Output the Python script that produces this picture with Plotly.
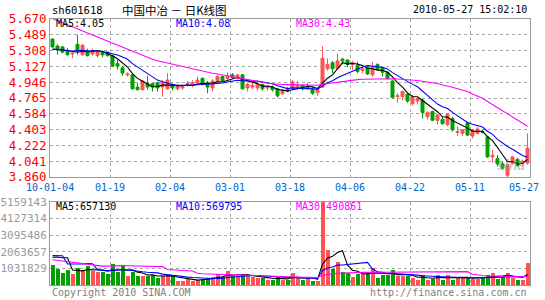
import plotly.graph_objects as go

# ---------------- data ----------------
tick_labels = ["10-01-04", "01-19", "02-04", "03-01", "03-18", "04-06", "04-22", "05-11", "05-27"]
price_ticks = [3.860, 4.041, 4.222, 4.403, 4.584, 4.765, 4.946, 5.127, 5.308, 5.489, 5.670]
vol_ticks = [1031829, 2063657, 3095486, 4127314, 5159143]

open_ = [5.44, 5.36, 5.35, 5.31, 5.27, 5.38, 5.26, 5.31, 5.27, 5.25,
         5.29, 5.29, 5.25, 5.16, 5.11, 5.03, 5.03, 4.89, 4.86, 4.93,
         4.93, 4.94, 4.89, 4.87, 4.92, 4.87, 4.88, 4.91, 4.91, 4.94,
         4.99, 4.94, 4.88, 4.96, 5.01, 4.99, 5.03, 4.99, 5.03, 4.88,
         4.89, 4.88, 4.92, 4.88, 4.89, 4.87, 4.815, 4.86, 4.88, 4.88,
         4.91, 4.88, 4.86, 4.83, 4.89, 5.10, 5.17, 5.10, 5.21, 5.20,
         5.15, 5.14, 5.08, 5.12, 5.03, 5.15, 5.11, 5.06, 4.96, 4.78,
         4.78, 4.81, 4.70, 4.73, 4.74, 4.55, 4.61, 4.51, 4.52, 4.46,
         4.53, 4.37, 4.36, 4.48, 4.33, 4.36, 4.38, 4.32, 4.09, 4.07,
         4.01, 3.88, 4.02, 4.06, 4.02, 4.02]
high = [5.45, 5.38, 5.36, 5.34, 5.29, 5.49, 5.38, 5.33, 5.33, 5.31,
        5.31, 5.30, 5.26, 5.20, 5.13, 5.06, 5.04, 4.94, 4.97, 5.02,
        4.93, 4.95, 4.97, 5.05, 4.93, 4.92, 4.92, 4.96, 4.97, 5.01,
        5.00, 4.96, 4.98, 5.03, 5.02, 5.06, 5.05, 5.04, 5.04, 4.94,
        4.94, 4.96, 4.93, 4.91, 4.91, 4.88, 4.87, 4.89, 4.97, 4.96,
        4.92, 4.94, 4.89, 4.87, 5.36, 5.22, 5.19, 5.27, 5.22, 5.21,
        5.19, 5.18, 5.12, 5.13, 5.18, 5.16, 5.12, 5.07, 4.97, 4.82,
        4.85, 4.82, 4.80, 4.77, 4.76, 4.61, 4.62, 4.58, 4.55, 4.59,
        4.55, 4.44, 4.41, 4.49, 4.41, 4.43, 4.40, 4.33, 4.17, 4.11,
        4.04, 4.01, 4.10, 4.08, 4.06, 4.36]
low = [5.34, 5.26, 5.28, 5.25, 5.22, 5.26, 5.25, 5.24, 5.25, 5.23,
       5.23, 5.24, 5.12, 5.09, 5.02, 5.01, 4.86, 4.85, 4.85, 4.86,
       4.84, 4.84, 4.78, 4.86, 4.85, 4.85, 4.86, 4.90, 4.89, 4.93,
       4.91, 4.82, 4.84, 4.95, 4.95, 4.96, 4.99, 4.98, 4.86, 4.84,
       4.87, 4.85, 4.85, 4.85, 4.84, 4.77, 4.80, 4.83, 4.87, 4.86,
       4.85, 4.86, 4.80, 4.79, 4.88, 5.08, 5.05, 5.09, 5.15, 5.12,
       5.09, 5.05, 5.05, 5.03, 5.01, 5.08, 5.01, 4.98, 4.76, 4.71,
       4.74, 4.71, 4.68, 4.69, 4.53, 4.52, 4.50, 4.46, 4.46, 4.44,
       4.38, 4.33, 4.33, 4.33, 4.30, 4.35, 4.36, 4.08, 4.02, 3.98,
       3.94, 3.86, 4.00, 3.98, 3.99, 4.00]
close = [5.35, 5.32, 5.29, 5.26, 5.28, 5.30, 5.37, 5.25, 5.31, 5.30,
         5.26, 5.25, 5.13, 5.13, 5.05, 5.04, 4.87, 4.86, 4.96, 4.89,
         4.89, 4.88, 4.94, 4.97, 4.88, 4.90, 4.89, 4.93, 4.94, 4.97,
         4.92, 4.89, 4.96, 5.01, 4.96, 5.01, 5.00, 5.03, 4.87, 4.92,
         4.91, 4.92, 4.87, 4.89, 4.86, 4.79, 4.86, 4.84, 4.95, 4.91,
         4.87, 4.91, 4.82, 4.86, 5.22, 5.15, 5.10, 5.19, 5.19, 5.15,
         5.17, 5.07, 5.10, 5.04, 5.12, 5.09, 5.06, 4.99, 4.77, 4.79,
         4.84, 4.73, 4.78, 4.76, 4.60, 4.60, 4.51, 4.57, 4.47, 4.58,
         4.40, 4.38, 4.40, 4.34, 4.40, 4.41, 4.37, 4.09, 4.11, 4.01,
         3.96, 4.00, 4.09, 3.99, 4.04, 4.19]
# closes of the 29 sessions before the window (estimated from where the MA lines start)
dec_close = [6.05, 6.02, 6.00, 5.98, 6.03, 6.00, 5.97, 5.95, 5.99, 5.96,
             5.93, 5.98, 5.80, 5.72, 5.65, 5.60, 5.62, 5.58, 5.55, 5.60,
             5.40, 5.35, 5.33, 5.30, 5.28, 5.31, 5.32, 5.30, 5.33]

# volume, millions of shares
vol_m = [1.26, 1.02, 0.78, 0.94, 0.73, 1.06, 0.94, 1.18, 0.90, 0.86,
         0.82, 0.69, 1.33, 0.82, 1.20, 0.61, 0.82, 0.61, 0.57, 0.57,
         0.65, 0.49, 0.57, 0.65, 0.57, 0.29, 0.29, 0.41, 0.29, 0.33,
         0.41, 0.45, 0.53, 0.69, 0.53, 0.90, 0.57, 0.57, 0.69, 0.57,
         0.53, 0.45, 0.45, 0.37, 0.37, 0.53, 0.37, 0.33, 0.78, 0.49,
         0.33, 0.45, 0.29, 0.29, 5.159143, 2.18, 1.02, 1.47, 0.82, 0.78,
         0.53, 0.73, 0.69, 0.78, 1.06, 0.49, 0.65, 0.65, 0.94, 0.57,
         0.57, 0.57, 0.45, 0.33, 0.65, 0.33, 0.41, 0.65, 0.33, 0.65,
         0.37, 0.45, 0.45, 0.53, 0.41, 0.41, 0.45, 0.65, 0.78, 0.41,
         0.53, 0.75, 0.45, 0.37, 0.33, 1.42]
dec_vol_m = [2.3, 2.0, 2.2, 1.9, 2.1, 2.4, 2.0, 1.8, 2.2, 2.0,
             0.8, 0.75, 0.85, 0.8, 0.7, 0.9, 0.8, 0.75, 0.85, 0.8,
             0.9, 1.0, 6.0, 0.85, 0.9, 0.95, 1.0, 0.94, 4.5]

ma_labels = ["MA5:4.05", "MA10:4.08", "MA30:4.43"]
vma_labels = ["MA5:657130", "MA10:569795", "MA30:490861"]

# ---------------- helpers ----------------
W, H = 545, 300
RED, GREEN = "#FF5252", "#00A000"
MA_COLORS = ["#000000", "#0000FF", "#FF00FF"]
GRID = "#A8A8A8"
BORDER = "#9A9A9A"
MONO = "DejaVu Sans Mono"


def px(x):
    return x / W


def py(y):
    return 1 - y / H


def moving_avg(series, prior, n):
    full = list(prior) + list(series)
    off = len(prior)
    return [sum(full[off + i - n + 1: off + i + 1]) / n for i in range(len(series))]


n = len(close)
x = list(range(n))
vol = [v * 1e6 for v in vol_m]
dec_vol = [v * 1e6 for v in dec_vol_m]
bar_colors = [RED if c >= o else GREEN for o, c in zip(open_, close)]
tickvals = [-0.5 + 12 * k for k in range(len(tick_labels))]

fig = go.Figure()

fig.add_trace(go.Candlestick(
    x=x, open=open_, high=high, low=low, close=close,
    increasing=dict(line=dict(color=RED, width=1), fillcolor=RED),
    decreasing=dict(line=dict(color=GREEN, width=1), fillcolor=GREEN),
    whiskerwidth=0, xaxis="x", yaxis="y", showlegend=False, hoverinfo="skip"))

for per, col in zip([5, 10, 30], MA_COLORS):
    fig.add_trace(go.Scatter(x=x, y=moving_avg(close, dec_close, per), mode="lines",
                             line=dict(color=col, width=1.1), xaxis="x", yaxis="y",
                             showlegend=False, hoverinfo="skip"))

fig.add_trace(go.Bar(x=x, y=vol, marker=dict(color=bar_colors, line=dict(width=0)),
                     width=0.8, xaxis="x2", yaxis="y2", showlegend=False, hoverinfo="skip"))

for per, col in zip([5, 10, 30], MA_COLORS):
    fig.add_trace(go.Scatter(x=x, y=moving_avg(vol, dec_vol, per), mode="lines",
                             line=dict(color=col, width=1.1), xaxis="x2", yaxis="y2",
                             showlegend=False, hoverinfo="skip"))

xdom = [px(50), px(530)]
common_x = dict(domain=xdom, range=[-0.5, n - 0.5], tickvals=tickvals,
                showgrid=True, gridcolor=GRID, griddash="dot", gridwidth=1,
                showline=True, mirror=True, linecolor=BORDER, linewidth=1,
                zeroline=False, ticks="", fixedrange=True, automargin=False)
common_y = dict(showgrid=True, gridcolor=GRID, griddash="dot", gridwidth=1,
                showline=True, mirror=True, linecolor=BORDER, linewidth=1,
                zeroline=False, ticks="", ticklen=4, tickcolor="rgba(0,0,0,0)",
                fixedrange=True, automargin=False)

fig.update_layout(
    width=W, height=H, autosize=False,
    margin=dict(l=0, r=0, t=0, b=0, pad=0),
    paper_bgcolor="white", plot_bgcolor="white",
    bargap=0, boxgap=0.15,
    xaxis=dict(**common_x, anchor="y", showticklabels=False,
               rangeslider=dict(visible=False)),
    xaxis2=dict(**common_x, anchor="y2", showticklabels=False),
    yaxis=dict(**common_y, domain=[py(177), py(19)], range=[price_ticks[0], price_ticks[-1]],
               tickvals=price_ticks, ticktext=["%.3f" % v for v in price_ticks],
               tickfont=dict(family=MONO, size=12.5, color="#FF0000")),
    yaxis2=dict(**common_y, domain=[py(285.3), py(201.7)], range=[0, vol_ticks[-1]],
                tickvals=vol_ticks, ticktext=[str(v) for v in vol_ticks],
                tickfont=dict(family=MONO, size=11, color="#999999")),
)

ann = []


def text(xp, yp, s, color="#000000", size=10, anchor="left", family=MONO, **kw):
    ann.append(dict(x=px(xp), y=py(yp), xref="paper", yref="paper", text=s, showarrow=False,
                    xanchor=anchor, yanchor="middle", font=dict(family=family, size=size, color=color), **kw))


# date labels under the price panel, placed on the axis positions of the grid lines
for k, (tv, lab) in enumerate(zip(tickvals, tick_labels)):
    shift = -6 if k == len(tick_labels) - 1 else 0
    ann.append(dict(x=tv, y=py(187.5), xref="x", yref="paper", text=lab, showarrow=False,
                    xanchor="center", yanchor="middle", xshift=shift,
                    font=dict(family=MONO, size=10, color="#0066CC")))

text(50, 10, "sh601618", size=10.5)
text(120, 10, "中国中冶 － 日K线图", size=11.5, family="Noto Sans CJK SC")
text(529, 10, "2010-05-27 15:02:10", anchor="right", size=10)
for xp, s, col in zip([54, 174, 294], ma_labels, MA_COLORS):
    text(xp, 24, s, color=col)
for xp, s, col in zip([54, 174, 294], vma_labels, MA_COLORS):
    text(xp, 206.5, s, color=col)
text(50, 292, "Copyright 2010 SINA.COM", color="#808080")
text(529, 292, "http://finance.sina.com.cn", color="#808080", anchor="right")
text(511, 165, "<i><b>sina</b></i>", color="rgba(150,150,150,0.55)", size=14, anchor="center",
     family="Liberation Sans")

fig.update_layout(annotations=ann)
fig.write_html("out.html")
